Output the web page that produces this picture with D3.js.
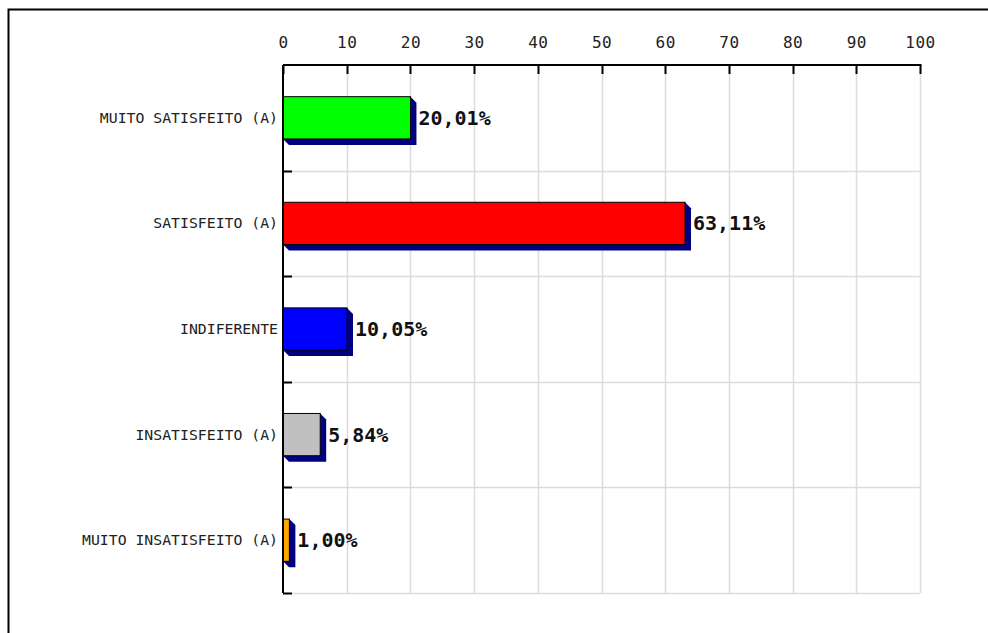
<!DOCTYPE html>
<html><head><meta charset="utf-8">
<script src="https://cdn.jsdelivr.net/npm/d3@7"></script>
<style>html,body{margin:0;padding:0;background:#fff;}svg{display:block;}</style>
</head><body>
<script>
const categories = ["MUITO SATISFEITO (A)", "SATISFEITO (A)", "INDIFERENTE", "INSATISFEITO (A)", "MUITO INSATISFEITO (A)"];
const values = [20.01, 63.11, 10.05, 5.84, 1.00];
const barColors = ["#00ff00", "#ff0000", "#0000ff", "#c0c0c0", "#ffa500"];
const xTicks = [0, 10, 20, 30, 40, 50, 60, 70, 80, 90, 100];

(function () {
const W = 988, H = 633;
const pL = 283, pR = 920, pT = 65, pB = 593;
const depth = 6;

const svg = d3.select("body").append("svg").attr("width", W).attr("height", H);
svg.append("rect").attr("width", W).attr("height", H).attr("fill", "#fff");
svg.append("rect").attr("x", 8.5).attr("y", 9.5).attr("width", 1100).attr("height", 800)
  .attr("fill", "none").attr("stroke", "#000").attr("stroke-width", 2);

const x = d3.scaleLinear().domain([0, 100]).range([pL, pR]);
const y = d3.scaleBand().domain(categories).range([pT, pB]).paddingInner(0.6).paddingOuter(0.3);
const step = y.step();
const bounds = d3.range(categories.length + 1).map(i => pT + i * step);

// grid
svg.append("g").selectAll("line").data(xTicks.slice(1)).join("line")
  .attr("x1", d => Math.round(x(d)) + 0.5).attr("x2", d => Math.round(x(d)) + 0.5)
  .attr("y1", pT).attr("y2", pB)
  .attr("stroke", "#dcdcdc").attr("stroke-width", 1.5);
svg.append("g").selectAll("line").data(bounds.slice(1)).join("line")
  .attr("x1", pL).attr("x2", pR)
  .attr("y1", d => Math.round(d) + 0.5).attr("y2", d => Math.round(d) + 0.5)
  .attr("stroke", "#dcdcdc").attr("stroke-width", 1.5);

// bars
const bars = svg.append("g").selectAll("g").data(categories).join("g");
bars.append("polygon")
  .attr("points", (d, i) => {
    const x0 = x(0), x1 = x(values[i]), y0 = y(d), y1 = y(d) + y.bandwidth();
    return [[x0, y1], [x0 + depth, y1 + depth], [x1 + depth, y1 + depth], [x1 + depth, y0 + depth], [x1, y0]].join(" ");
  })
  .attr("fill", "#000080");
bars.append("rect")
  .attr("x", x(0)).attr("y", d => y(d))
  .attr("width", (d, i) => x(values[i]) - x(0)).attr("height", y.bandwidth())
  .attr("fill", (d, i) => barColors[i]).attr("stroke", "#000").attr("stroke-width", 1);
bars.append("text")
  .attr("x", (d, i) => x(values[i]) + depth + 2)
  .attr("y", d => y(d) + y.bandwidth() / 2 + 7)
  .attr("font-family", "DejaVu Sans Mono").attr("font-weight", "bold").attr("font-size", 20)
  .attr("fill", "#111")
  .text((d, i) => values[i].toFixed(2).replace(".", ",") + "%");

// category labels
svg.append("g").selectAll("text").data(categories).join("text")
  .attr("x", pL - 5).attr("y", d => y(d) + y.bandwidth() / 2 + 5)
  .attr("text-anchor", "end")
  .attr("font-family", "DejaVu Sans Mono").attr("font-size", 14.8).attr("fill", "#222")
  .text(d => d);

// top axis
const axisTop = d3.axisTop(x).tickValues(xTicks).tickSize(0).tickPadding(0);
const ga = svg.append("g").attr("transform", `translate(0,${pT})`).call(axisTop);
ga.select(".domain").remove();
ga.selectAll("text").attr("y", -17).attr("font-family", "DejaVu Sans Mono")
  .attr("font-size", 16).attr("letter-spacing", 0.5).attr("fill", "#222");
svg.append("g").selectAll("line").data(xTicks).join("line")
  .attr("x1", d => Math.round(x(d)) + 0.5).attr("x2", d => Math.round(x(d)) + 0.5)
  .attr("y1", pT).attr("y2", pT + 9)
  .attr("stroke", "#000").attr("stroke-width", 2);
svg.append("line").attr("x1", pL).attr("x2", pR + 1.5).attr("y1", pT).attr("y2", pT)
  .attr("stroke", "#000").attr("stroke-width", 2);

// left axis
svg.append("line").attr("x1", pL).attr("x2", pL).attr("y1", pT).attr("y2", pB)
  .attr("stroke", "#000").attr("stroke-width", 2);
svg.append("g").selectAll("line").data(bounds.slice(1)).join("line")
  .attr("x1", pL).attr("x2", pL + 9)
  .attr("y1", d => Math.round(d) + 0.5).attr("y2", d => Math.round(d) + 0.5)
  .attr("stroke", "#000").attr("stroke-width", 2);
})();
</script>
</body></html>
